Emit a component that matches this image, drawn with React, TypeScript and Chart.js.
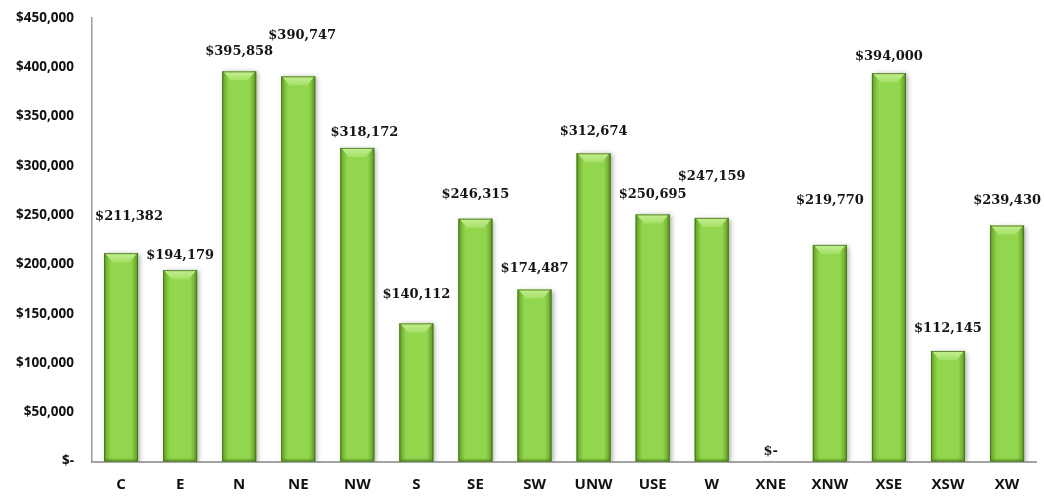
import React, { useEffect, useRef } from "react";
import { Chart, registerables } from "chart.js";

Chart.register(...registerables);

const categories = ["C", "E", "N", "NE", "NW", "S", "SE", "SW", "UNW", "USE", "W", "XNE", "XNW", "XSE", "XSW", "XW"];
const values = [211382, 194179, 395858, 390747, 318172, 140112, 246315, 174487, 312674, 250695, 247159, 0, 219770, 394000, 112145, 239430];
const yTicks = [0, 50000, 100000, 150000, 200000, 250000, 300000, 350000, 400000, 450000];

// label placement (manually dragged labels in the original): lift above bar top, horizontal shift
const labelLift = [37, 15, 20, 41, 15, 29, 24, 21, 22, 20, 41, 10, 44, 17, 22, 25];
const labelShift = [8, 0, 0, 4, 7, 0, 0, 0, 0, 0, 0, 0, 0, 0, 0, 0];

const money = (v: number) => (v === 0 ? "$-" : "$" + v.toLocaleString("en-US"));

const barStylePlugin = {
  id: "barStyle",
  beforeDatasetDraw(chart: any) {
    const ctx = chart.ctx;
    ctx.save();
    ctx.shadowColor = "rgba(0,0,0,0.35)";
    ctx.shadowBlur = 5;
    ctx.shadowOffsetX = 2;
    ctx.shadowOffsetY = 1;
  },
  afterDatasetDraw(chart: any) {
    chart.ctx.restore();
  },
  afterDatasetsDraw(chart: any) {
    const ctx = chart.ctx;
    const meta = chart.getDatasetMeta(0);
    meta.data.forEach((el: any) => {
      const { x, y, base, width } = el.getProps(["x", "y", "base", "width"], true);
      const h = base - y;
      if (h < 1) return;
      const x0 = x - width / 2;
      const x1 = x + width / 2;
      ctx.save();
      const g = ctx.createLinearGradient(x0, 0, x1, 0);
      g.addColorStop(0, "#5c9822");
      g.addColorStop(0.1, "#7abd38");
      g.addColorStop(0.2, "#92d64e");
      g.addColorStop(0.8, "#92d64e");
      g.addColorStop(0.9, "#7aba38");
      g.addColorStop(1, "#578f1f");
      ctx.fillStyle = g;
      ctx.fillRect(x0, y, width, h);
      // top bevel
      const bh = Math.min(9, h / 2);
      const inset = Math.min(9, width / 4);
      const gt = ctx.createLinearGradient(0, y, 0, y + bh);
      gt.addColorStop(0, "#c4ef92");
      gt.addColorStop(1, "#a6e067");
      ctx.fillStyle = gt;
      ctx.beginPath();
      ctx.moveTo(x0 + 1, y);
      ctx.lineTo(x1 - 1, y);
      ctx.lineTo(x1 - inset, y + bh);
      ctx.lineTo(x0 + inset, y + bh);
      ctx.closePath();
      ctx.fill();
      // bottom darker bevel
      const gb = ctx.createLinearGradient(0, base - 4, 0, base);
      gb.addColorStop(0, "rgba(80,130,30,0)");
      gb.addColorStop(1, "rgba(80,130,30,0.6)");
      ctx.fillStyle = gb;
      ctx.fillRect(x0, base - 4, width, 4);
      ctx.strokeStyle = "rgba(70,110,30,0.8)";
      ctx.lineWidth = 1;
      ctx.strokeRect(x0 + 0.5, y + 0.5, width - 1, h - 1);
      ctx.restore();
    });
  },
};

const labelPlugin = {
  id: "valueLabels",
  afterDraw(chart: any) {
    const ctx = chart.ctx;
    const meta = chart.getDatasetMeta(0);
    ctx.save();
    ctx.font = "bold 13px 'DejaVu Serif'";
    ctx.fillStyle = "#151515";
    ctx.textAlign = "center";
    ctx.textBaseline = "middle";
    meta.data.forEach((el: any, i: number) => {
      const { x, y } = el.getProps(["x", "y"], true);
      ctx.fillText(money(values[i]), x + labelShift[i], y - labelLift[i]);
    });
    ctx.restore();
  },
};

export default function App() {
  const ref = useRef<HTMLCanvasElement | null>(null);
  useEffect(() => {
    document.body.style.margin = "0";
    if (!ref.current) return;
    const chart = new Chart(ref.current, {
      type: "bar",
      data: {
        labels: categories,
        datasets: [
          {
            data: values,
            backgroundColor: "#8ccf4a",
            borderWidth: 0,
            categoryPercentage: 1,
            barPercentage: 0.576,
          },
        ],
      },
      options: {
        animation: false,
        responsive: true,
        maintainAspectRatio: false,
        layout: { padding: { top: 18, right: 7.4, left: 0, bottom: 0 } },
        plugins: { legend: { display: false }, tooltip: { enabled: false } },
        scales: {
          x: {
            grid: { display: false, drawTicks: true, tickLength: 14 },
            border: { display: true, color: "#a3a3a3", width: 2 },
            ticks: {
              color: "#111",
              font: { family: "'Open Sans'", weight: "bold", size: 15 },
              padding: 0,
              maxRotation: 0,
              autoSkip: false,
            },
            afterFit(scale: any) {
              scale.height = 34.5;
            },
          },
          y: {
            min: 0,
            max: 450000,
            grid: { display: false, drawTicks: true, tickLength: 17.5 },
            border: { display: true, color: "#9a9a9a", width: 1.5 },
            afterBuildTicks(scale: any) {
              scale.ticks = yTicks.map((v) => ({ value: v }));
            },
            ticks: {
              color: "#111",
              font: { family: "'Open Sans'", weight: "bold", size: 13.5 },
              padding: 0,
              callback: (v: any) => money(Number(v)),
            },
            afterFit(scale: any) {
              scale.width = 91.5;
            },
          },
        },
      },
      plugins: [barStylePlugin, labelPlugin],
    });
    return () => chart.destroy();
  }, []);
  return (
    <div style={{ position: "relative", width: 1044, height: 496 }}>
      <canvas ref={ref} />
    </div>
  );
}
